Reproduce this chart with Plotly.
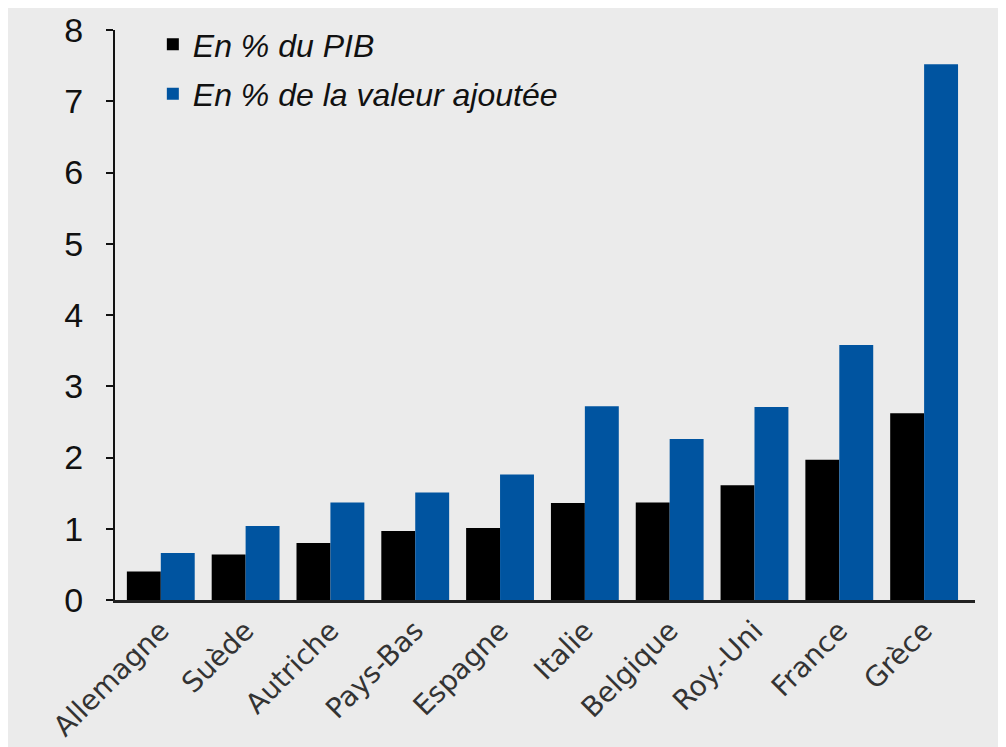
import plotly.graph_objects as go

countries = ["Allemagne", "Suède", "Autriche", "Pays-Bas", "Espagne",
             "Italie", "Belgique", "Roy.-Uni", "France", "Grèce"]
pct_pib = [0.40, 0.64, 0.80, 0.97, 1.01, 1.36, 1.37, 1.61, 1.97, 2.62]
pct_va = [0.66, 1.04, 1.37, 1.51, 1.76, 2.72, 2.26, 2.71, 3.58, 7.52]
y_ticks = [0, 1, 2, 3, 4, 5, 6, 7, 8]

BG = "#ebebeb"
fig = go.Figure()
fig.add_trace(go.Bar(x=countries, y=pct_pib, name="En % du PIB", legendgroup="a",
                     marker=dict(color="#000000", line=dict(width=0))))
fig.add_trace(go.Bar(x=countries, y=pct_va, name="En % de la valeur ajoutée", legendgroup="b",
                     marker=dict(color="#0054a0", line=dict(width=0))))

fig.update_layout(
    width=1006, height=747,
    paper_bgcolor=BG, plot_bgcolor=BG,
    margin=dict(l=107, r=39, t=22, b=155, autoexpand=False),
    barmode="group", bargap=0.2, bargroupgap=0,
    font=dict(family="Liberation Sans, Arial, sans-serif", color="#111111"),
    legend=dict(x=0.044, y=0.988, xanchor="left", yanchor="top",
                xref="paper", yref="container",
                bgcolor="rgba(0,0,0,0)", traceorder="grouped",
                font=dict(family="Liberation Sans, Arial", size=32,
                          style="italic", color="#111111"),
                itemwidth=30, tracegroupgap=5),
    showlegend=True,
)
fig.update_xaxes(range=[-0.54, 9.60], showline=True, linecolor="#222222", linewidth=3,
                 ticks="", showgrid=False, tickangle=-45,
                 tickfont=dict(family="DejaVu Sans, Verdana, sans-serif", size=28, color="#333333"))
fig.update_yaxes(range=[0, 8], tickvals=y_ticks, showline=True, linecolor="#111111",
                 linewidth=2, ticks="outside", ticklen=7, tickwidth=2, tickcolor="#111111",
                 showgrid=False, zeroline=False, ticklabelstandoff=16,
                 tickfont=dict(family="Liberation Sans, Arial", size=34, color="#111111"))

fig.write_html("out.html")
